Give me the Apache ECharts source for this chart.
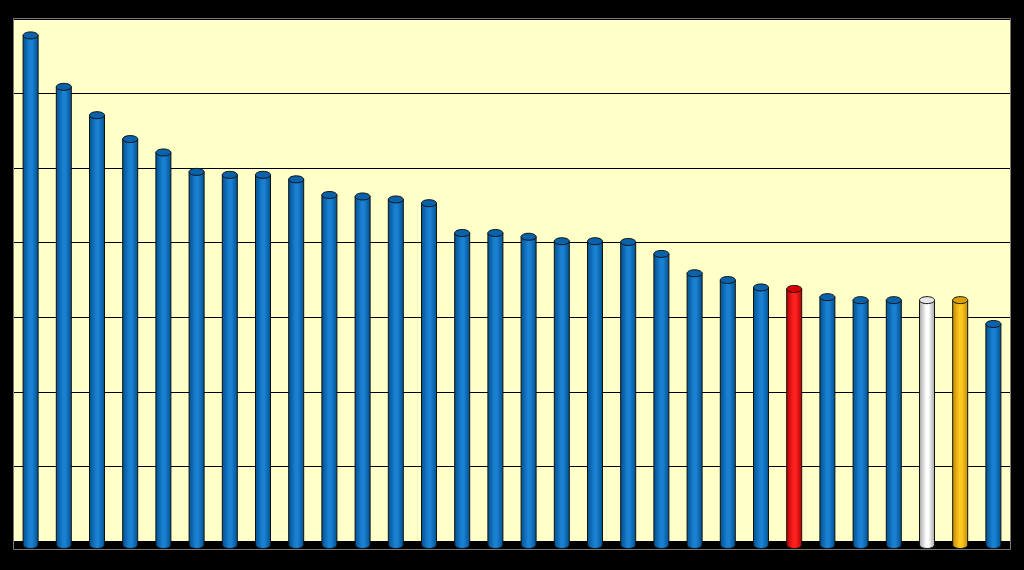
<!DOCTYPE html>
<html><head><meta charset="utf-8">
<script src="https://cdn.jsdelivr.net/npm/echarts@6/dist/echarts.min.js"></script>
<style>html,body{margin:0;padding:0;background:#000}#c{width:1024px;height:570px}</style>
</head><body><div id="c"></div>
<script>
const categories = Array.from({length:30},(_,i)=>String(i+1));
const values = [67.8,60.9,57.1,53.9,52.1,49.5,49.1,49.1,48.5,46.4,46.2,45.8,45.3,41.3,41.3,40.8,40.2,40.2,40.1,38.5,35.9,35.0,34.0,33.8,32.7,32.3,32.3,32.3,32.3,29.1];
const yMin = 0, yMax = 70, yStep = 10;

const palettes = {
  blue:   {dark:'#004e8c', mid:'#1a80d2', top:'#0a62aa'},
  red:    {dark:'#b00000', mid:'#ff2020', top:'#d80000'},
  white:  {dark:'#a0a0a0', mid:'#ffffff', top:'#e8e8e8'},
  orange: {dark:'#c08800', mid:'#ffc820', top:'#dca000'}
};
const special = {23:'red', 27:'white', 28:'orange'};

const chart = echarts.init(document.getElementById('c'));
chart.setOption({
  backgroundColor:'#000',
  animation:false,
  grid:{left:14,right:14,top:19,bottom:29,show:true,backgroundColor:'#FFFFC8',borderWidth:0},
  xAxis:{type:'category',data:categories,axisLine:{show:false},axisTick:{show:false},axisLabel:{show:false}},
  yAxis:{type:'value',min:yMin,max:yMax,interval:yStep,axisLine:{show:false},axisTick:{show:false},axisLabel:{show:false},
    splitLine:{lineStyle:{color:'#000',width:1}}},
  graphic:[{type:'rect',shape:{x:13.5,y:18.5,width:997,height:531},style:{fill:'none',stroke:'#777',lineWidth:1},z:100}],
  series:[{
    type:'custom',
    data:values.map((v,i)=>[i,v]),
    renderItem:function(params, api){
      const i = api.value(0);
      const top = api.coord([i, api.value(1)]);
      const base = api.coord([i, 0]);
      const w = 15, rx = w/2, ry = 3.5;
      const p = palettes[special[i]||'blue'];
      const grad = new echarts.graphic.LinearGradient(0,0,1,0,[
        {offset:0,color:p.dark},{offset:0.45,color:p.mid},{offset:0.6,color:p.mid},{offset:1,color:p.dark}]);
      const x0 = top[0]-rx, bottomY = base[1]+4;
      return {type:'group',children:[
        {type:'path',shape:{pathData:
          'M'+x0+' '+top[1]+' L'+x0+' '+bottomY+' A'+rx+' '+ry+' 0 0 0 '+(x0+w)+' '+bottomY+' L'+(x0+w)+' '+top[1]+' Z'},
          style:{fill:grad,stroke:'#111',lineWidth:1}},
        {type:'ellipse',shape:{cx:top[0],cy:top[1],rx:rx,ry:ry},style:{fill:p.top,stroke:'#111',lineWidth:1}}
      ]};
    }
  }]
});
</script></body></html>
